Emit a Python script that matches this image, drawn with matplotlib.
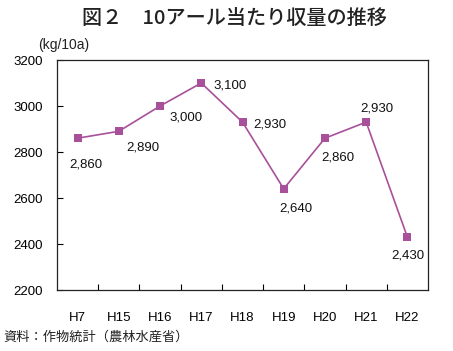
import numpy as np
import matplotlib.pyplot as plt

plt.rcParams['font.family'] = ['Liberation Sans', 'Noto Sans CJK JP', 'DejaVu Sans']

years = ["H7", "H15", "H16", "H17", "H18", "H19", "H20", "H21", "H22"]
yields = [2860, 2890, 3000, 3100, 2930, 2640, 2860, 2930, 2430]
value_labels = ["2,860", "2,890", "3,000", "3,100", "2,930", "2,640", "2,860", "2,930", "2,430"]
y_ticks = [2200, 2400, 2600, 2800, 3000, 3200]

# label offsets in points (dx, dy)
offsets = [(6, -19), (17, -12), (19, -8), (21, -1.5), (20, -1.5), (9, -14), (9, -14), (8, 10), (0, -13)]

color = '#a8509a'

fig = plt.figure(figsize=(4.53, 3.51), dpi=100)
ax = fig.add_axes([57 / 453, 1 - 290 / 351, 371 / 453, 230 / 351])

x = np.arange(len(years))
ax.plot(x, yields, color=color, lw=1.2, marker='s', markersize=6, markeredgewidth=0)

for xi, yi, lab, (dx, dy) in zip(x, yields, value_labels, offsets):
    ax.annotate(lab, (xi, yi), xytext=(dx, dy), textcoords='offset points',
                ha='center', va='center', fontsize=9.5, color='#111111')

ax.set_xlim(-0.5, len(years) - 0.5)
ax.set_ylim(2200, 3200)
ax.set_yticks(y_ticks)
ax.set_yticklabels([str(v) for v in y_ticks], fontsize=9.5)
ax.set_xticks(np.arange(len(years) - 1) + 0.5)
ax.set_xticklabels([])
ax.set_xticks(x, minor=True)
ax.set_xticklabels(years, minor=True, fontsize=9.5)
ax.tick_params(axis='x', which='major', direction='in', length=4, width=0.8)
ax.tick_params(axis='x', which='minor', length=0, pad=16)
ax.tick_params(axis='y', direction='in', length=4, width=0.8, pad=10)
for s in ax.spines.values():
    s.set_linewidth(0.9)
    s.set_color('#222222')

fig.text(234 / 453, 1 - 19 / 351, "図２　10アール当たり収量の推移", ha='center', va='center',
         fontsize=14.5, fontweight='medium', family=['Noto Sans CJK JP', 'DejaVu Sans'], color='#222222')
fig.text(38 / 453, 1 - 45 / 351, "(kg/10a)", ha='left', va='center', fontsize=10, color='#222222')
fig.text(3 / 453, 1 - 337 / 351, "資料：作物統計（農林水産省）", ha='left', va='center',
         fontsize=9.5, family=['Noto Sans CJK JP', 'DejaVu Sans'], color='#222222')

fig.savefig("out.png", dpi=100)
